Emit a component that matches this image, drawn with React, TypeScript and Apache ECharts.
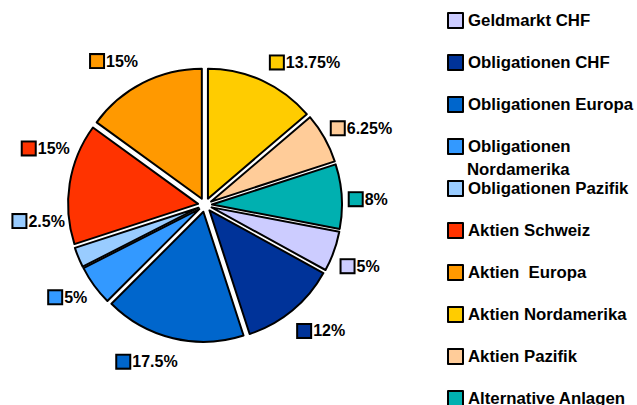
import React, { useEffect, useRef } from 'react';
import * as echarts from 'echarts';

const categories = [
  'Geldmarkt CHF',
  'Obligationen CHF',
  'Obligationen Europa',
  'Obligationen Nordamerika',
  'Obligationen Pazifik',
  'Aktien Schweiz',
  'Aktien  Europa',
  'Aktien Nordamerika',
  'Aktien Pazifik',
  'Alternative Anlagen',
];
const values = [5, 12, 17.5, 5, 2.5, 15, 15, 13.75, 6.25, 8];
const colors = [
  '#CCCCFF',
  '#003399',
  '#0066CC',
  '#3399FF',
  '#99CCFF',
  '#FF3300',
  '#FF9900',
  '#FFCC00',
  '#FFCC99',
  '#00B0B0',
];
// manual label nudges (pixels) mimicking the original label placement
const labelNudgeX = [0, 0, 8, 0, -6, 8, 0, 4, 0, 0];
const labelNudgeY = [8, 5, 4, 0, -44, -32, -4, 0, 0, 4];

const FONT = 'Liberation Sans';
const START_ANGLE = -10.8;

export default function App() {
  const ref = useRef<HTMLDivElement>(null);
  useEffect(() => {
    document.body.style.margin = '0';
    const chart = echarts.init(ref.current!, null, { renderer: 'svg' });
    const total = values.reduce((a, b) => a + b, 0);
    const mids: number[] = [];
    let acc = 0;
    values.forEach((v) => {
      mids.push(((START_ANGLE - ((acc + v / 2) / total) * 360) * Math.PI) / 180);
      acc += v;
    });
    const rich: any = {
      v: { fontFamily: FONT, fontWeight: 'bold', fontSize: 16, color: '#000', padding: [0, 0, 0, 3] },
    };
    colors.forEach((c, i) => {
      rich['k' + i] = { width: 12, height: 12, backgroundColor: c, borderColor: '#000', borderWidth: 2 };
    });
    chart.setOption({
      animation: false,
      backgroundColor: '#ffffff',
      legend: {
        orient: 'vertical',
        left: 447,
        top: 12,
        height: 440,
        padding: 0,
        itemWidth: 15,
        itemHeight: 15,
        itemGap: 25,
        icon: 'rect',
        selectedMode: false,
        itemStyle: { borderColor: '#000', borderWidth: 2 },
        textStyle: { fontFamily: FONT, fontWeight: 'bold', fontSize: 16.8, color: '#000' },
        formatter: (n: string) => (n === 'Obligationen Nordamerika' ? 'Obligationen' : n),
        data: categories,
      },
      graphic: [
        {
          type: 'text',
          left: 467,
          top: 161,
          style: { text: 'Nordamerika', font: `bold 16.8px "${FONT}"`, fill: '#000' },
        },
      ],
      series: [
        {
          type: 'pie',
          center: [205, 205],
          radius: 130,
          startAngle: START_ANGLE,
          clockwise: true,
          selectedMode: 'multiple',
          selectedOffset: 7,
          avoidLabelOverlap: false,
          itemStyle: { borderColor: '#000', borderWidth: 2 },
          select: { itemStyle: { borderColor: '#000', borderWidth: 2 } },
          emphasis: { disabled: true },
          label: {
            show: true,
            position: 'outside',
            distanceToLabelLine: 2,
            formatter: (p: any) => `{k${p.dataIndex}|}{v|${p.value}%}`,
            rich,
          },
          labelLine: { show: false, length: 6, length2: 0 },
          labelLayout: (p: any) => {
            const i = p.dataIndex;
            return {
              dx: labelNudgeX[i],
              dy: -Math.sin(mids[i]) * 14 + labelNudgeY[i],
            };
          },
          data: categories.map((n, i) => ({
            name: n,
            value: values[i],
            selected: true,
            itemStyle: { color: colors[i] },
          })),
        },
      ],
    });
    return () => chart.dispose();
  }, []);
  return <div ref={ref} style={{ width: 637, height: 405 }} />;
}
